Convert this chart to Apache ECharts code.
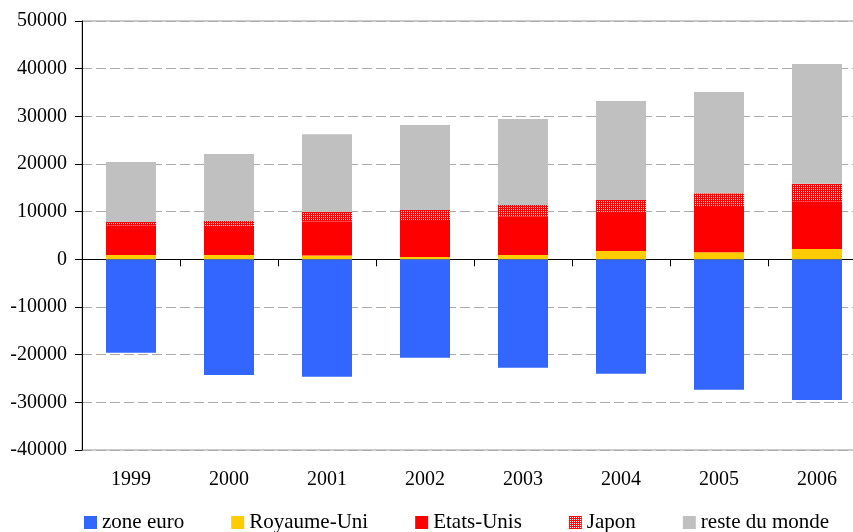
<!DOCTYPE html>
<html>
<head>
<meta charset="utf-8">
<script src="https://cdn.jsdelivr.net/npm/echarts@6/dist/echarts.min.js"></script>
<style>
  html, body { margin: 0; padding: 0; background: #ffffff; overflow: hidden; }
  #wrap { width: 853px; height: 532px; overflow: hidden; }
  /* the plot area runs slightly past the right edge of the frame */
  #chart { width: 866px; height: 532px; }
</style>
</head>
<body>
<div id="wrap"><div id="chart"></div></div>
<script>
// Years on the category axis
const years = ['1999', '2000', '2001', '2002', '2003', '2004', '2005', '2006'];

// Values per counterpart
const zoneEuro     = [-19600, -24270, -24630, -20640, -22740, -24000, -27360, -29520];
const royaumeUni   = [900, 900, 800, 500, 900, 1740, 1470, 2160];
const etatsUnis    = [6230, 6150, 7200, 7750, 8120, 8250, 9500, 10010];
const japon        = [700, 1050, 1950, 2090, 2370, 2450, 2880, 3690];
const resteDuMonde = [12580, 14000, 16300, 17840, 18050, 20770, 21250, 25110];

// Value axis range
const yMin = -40000;
const yMax = 50000;
const yStep = 10000;

const FONT = 'Liberation Serif';

// Red/white dotted fill for the Japan segments
function dotPattern() {
  const c = document.createElement('canvas');
  c.width = 2; c.height = 2;
  const ctx = c.getContext('2d');
  ctx.fillStyle = '#ff0000';
  ctx.fillRect(0, 0, 2, 2);
  ctx.fillStyle = '#ffffff';
  ctx.fillRect(1, 1, 1, 1);
  return { image: c, repeat: 'repeat' };
}

const chart = echarts.init(document.getElementById('chart'), null, { renderer: 'canvas' });

function barSeries(name, data, color) {
  return {
    name: name,
    type: 'bar',
    stack: 'total',
    xAxisIndex: 0,
    yAxisIndex: 0,
    barWidth: 50,
    data: data,
    itemStyle: { color: color },
    emphasis: { disabled: true }
  };
}

chart.setOption({
  animation: false,
  backgroundColor: '#ffffff',
  textStyle: { fontFamily: FONT },
  grid: {
    left: 82,
    top: 21,
    right: 0,
    bottom: 82,
    show: true,
    borderColor: '#999999',
    borderWidth: 1,
    backgroundColor: 'transparent'
  },
  legend: {
    left: 84,
    top: 512,
    padding: 0,
    itemWidth: 13,
    itemHeight: 13,
    itemGap: 47,
    icon: 'rect',
    textStyle: { fontFamily: FONT, fontSize: 21, color: '#000000' },
    data: ['zone euro', 'Royaume-Uni', 'Etats-Unis', 'Japon', 'reste du monde']
  },
  xAxis: [
    {
      type: 'category',
      data: years,
      position: 'bottom',
      axisLine: { show: false, onZero: false },
      axisTick: { show: false },
      axisLabel: { fontFamily: FONT, fontSize: 20, color: '#000000', margin: 20 },
      splitLine: { show: false }
    },
    {
      type: 'category',
      data: years,
      position: 'bottom',
      axisLine: { show: true, onZero: true, lineStyle: { color: '#000000', width: 1 } },
      axisTick: { show: true, inside: false, length: 7, lineStyle: { color: '#000000' } },
      axisLabel: { show: false },
      splitLine: { show: false }
    }
  ],
  yAxis: {
    type: 'value',
    min: yMin,
    max: yMax,
    interval: yStep,
    axisLine: { show: true, lineStyle: { color: '#000000', width: 1 } },
    axisTick: { show: true, length: 7, lineStyle: { color: '#000000' } },
    axisLabel: {
      fontFamily: FONT, fontSize: 20, color: '#000000', margin: 15,
      formatter: function (v) { return String(v); }
    },
    splitLine: { show: true, lineStyle: { color: '#ababab', type: [10, 4], width: 1.2 } }
  },
  series: [
    barSeries('zone euro', zoneEuro, '#3366ff'),
    barSeries('Royaume-Uni', royaumeUni, '#ffcc00'),
    barSeries('Etats-Unis', etatsUnis, '#ff0000'),
    barSeries('Japon', japon, dotPattern()),
    barSeries('reste du monde', resteDuMonde, '#c0c0c0')
  ]
});
</script>
</body>
</html>
